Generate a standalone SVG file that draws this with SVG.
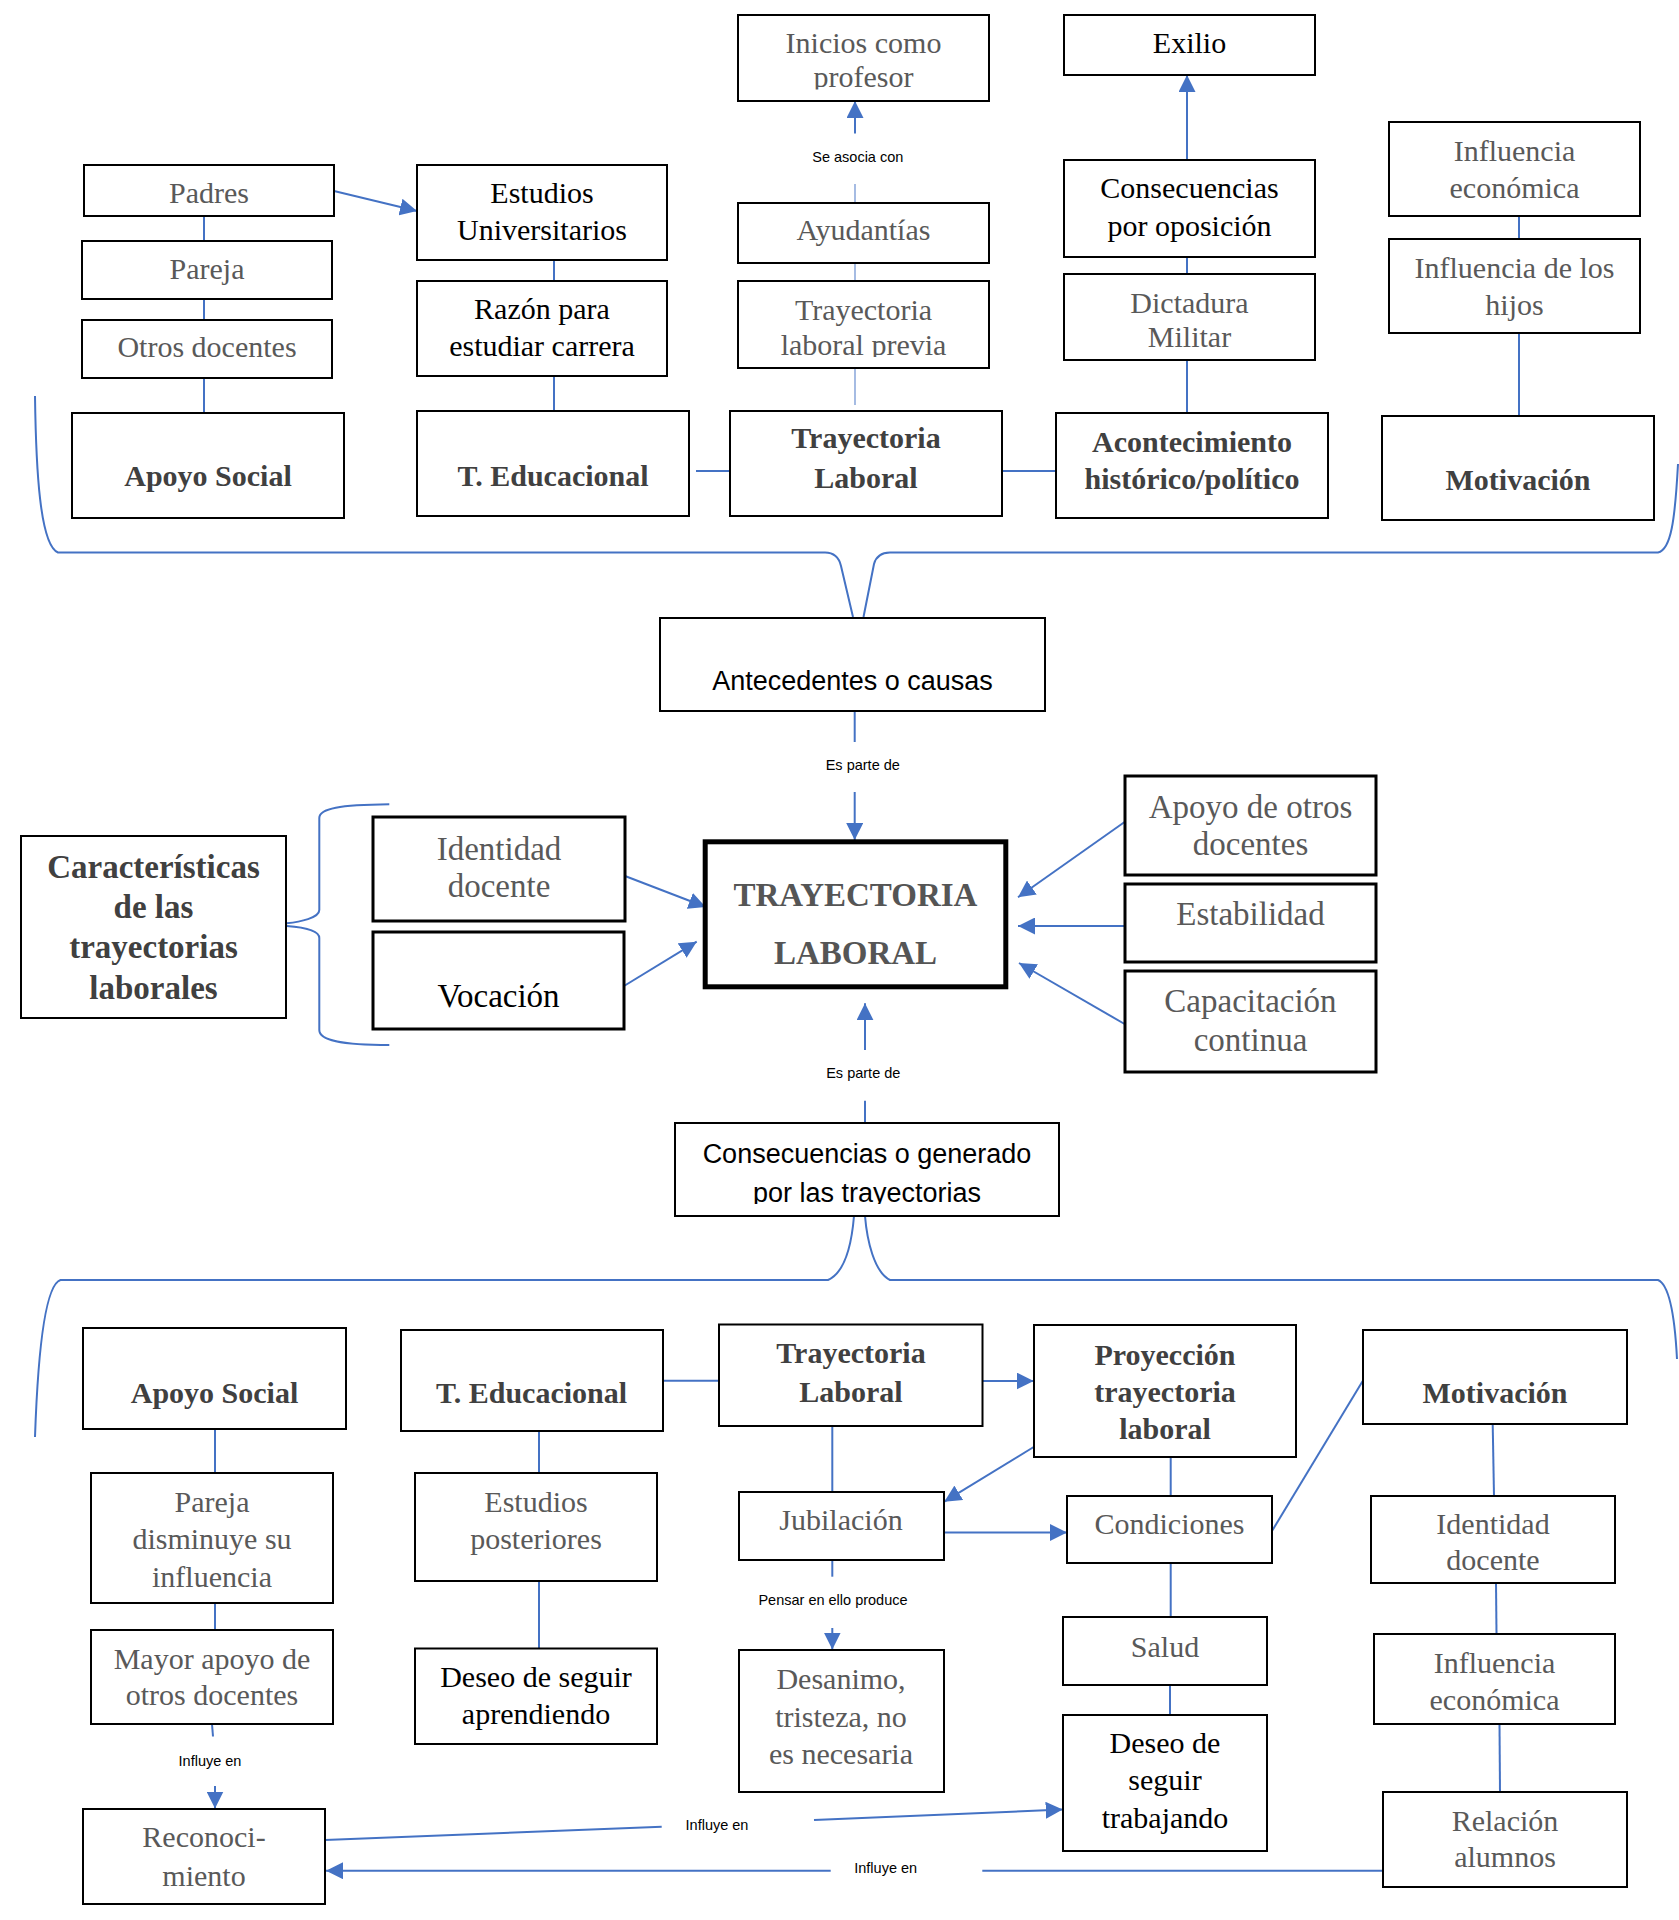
<svg xmlns="http://www.w3.org/2000/svg" width="1679" height="1920" viewBox="0 0 1679 1920">
<style>
.b{fill:#fff;stroke:#000;stroke-width:2}
.b3{stroke-width:3}
.t{font-family:"Liberation Serif","Times New Roman",serif;font-size:30px;fill:#595959;text-anchor:middle}
.k{fill:#000}
.bd{font-weight:bold;fill:#404040}
.m{font-size:33px}
.s{font-family:"Liberation Sans",Arial,sans-serif;font-size:14.5px;fill:#000;text-anchor:middle}
.sa{font-family:"Liberation Sans",Arial,sans-serif;font-size:27px;fill:#000;text-anchor:middle}
.c{stroke:#4472C4;stroke-width:2;fill:none}
.thin{stroke:#4472C4;stroke-width:1.2;fill:none;opacity:0.8}
.a{marker-end:url(#ah)}
</style>
<defs>
<marker id="ah" viewBox="0 0 10 10" refX="10" refY="5" markerWidth="17" markerHeight="17" markerUnits="userSpaceOnUse" orient="auto"><path d="M0,0 L10,5 L0,10 z" fill="#4472C4"/></marker>
<clipPath id="clipIni"><rect x="738" y="15" width="251" height="74.5"/></clipPath>
<clipPath id="clipPrev"><rect x="738" y="281" width="251" height="76"/></clipPath>
<clipPath id="clipCons"><rect x="675" y="1123" width="384" height="81"/></clipPath>
</defs>
<rect width="1679" height="1920" fill="#fff"/>

<g id="connectors">
<!-- braces -->
<path class="c" d="M35,396 C36,470 40,545 58,552.5 L825,552.5 Q838,552.7 841,566 L853,617"/>
<path class="c" d="M1678,464 C1675,520 1671,550 1658,552.5 L890,552.5 Q877,552.7 874,564 L863.5,617"/>
<path class="c" d="M854,1216 C852,1240 846,1272 828,1280 L60.5,1280 C45,1285 38,1350 35,1437"/>
<path class="c" d="M865,1216 C867,1240 874,1272 890,1280 L1658,1280 C1670,1285 1675,1320 1677,1359"/>
<path class="c" d="M389.3,804.3 C340,805 319.3,808 319.3,818 L319.3,910 C319.3,918 300,922 286.7,923.3"/>
<path class="c" d="M286.7,926 C300,927 319.3,930 319.3,938 L319.3,1030 C319.3,1040 340,1045 389.3,1045"/>
<!-- top -->
<line class="c a" x1="334" y1="191" x2="417" y2="211"/>
<line class="c" x1="204" y1="216" x2="204" y2="241"/>
<line class="c" x1="204" y1="299" x2="204" y2="320"/>
<line class="c" x1="204" y1="378" x2="204" y2="413"/>
<line class="c" x1="554" y1="260" x2="554" y2="281"/>
<line class="c" x1="554" y1="376" x2="554" y2="411"/>
<line class="c" x1="696" y1="471" x2="730" y2="471"/>
<line class="c" x1="1002" y1="471" x2="1056" y2="471"/>
<line class="c a" x1="855" y1="133.5" x2="855" y2="101"/>
<line class="thin" x1="855" y1="184" x2="855" y2="203"/>
<line class="thin" x1="855" y1="263" x2="855" y2="281"/>
<line class="thin" x1="855" y1="368" x2="855" y2="405"/>
<line class="c a" x1="1187" y1="160" x2="1187" y2="75"/>
<line class="c" x1="1187" y1="257" x2="1187" y2="274"/>
<line class="c" x1="1187" y1="360" x2="1187" y2="413"/>
<line class="c" x1="1519" y1="216" x2="1519" y2="239"/>
<line class="c" x1="1519" y1="333" x2="1519" y2="416"/>
<!-- middle -->
<line class="c" x1="854.7" y1="711" x2="854.7" y2="742"/>
<line class="c a" x1="854.7" y1="792" x2="854.7" y2="840"/>
<line class="c a" x1="625" y1="876" x2="705.7" y2="907"/>
<line class="c a" x1="624" y1="986" x2="696.7" y2="941.7"/>
<line class="c a" x1="1124.6" y1="822" x2="1018" y2="897.3"/>
<line class="c a" x1="1124.6" y1="926" x2="1018" y2="926"/>
<line class="c a" x1="1124.6" y1="1024" x2="1019" y2="963"/>
<line class="c a" x1="865" y1="1050" x2="865" y2="1003.3"/>
<line class="c" x1="865" y1="1100.7" x2="865" y2="1123"/>
<!-- bottom -->
<line class="c" x1="663" y1="1380.7" x2="719" y2="1380.7"/>
<line class="c a" x1="982.7" y1="1381" x2="1033.7" y2="1381"/>
<line class="c" x1="215" y1="1429" x2="215" y2="1473"/>
<line class="c" x1="215" y1="1603" x2="215" y2="1630"/>
<line class="c" x1="212" y1="1724" x2="213" y2="1736.5"/>
<line class="c a" x1="215" y1="1786" x2="215" y2="1808.5"/>
<line class="c" x1="539" y1="1431" x2="539" y2="1473"/>
<line class="c" x1="539" y1="1581" x2="539" y2="1648.5"/>
<line class="c" x1="832.3" y1="1426" x2="832.3" y2="1492"/>
<line class="c a" x1="1033.7" y1="1447" x2="944.3" y2="1501.7"/>
<line class="c a" x1="944" y1="1532.5" x2="1067" y2="1532.5"/>
<line class="c" x1="832.3" y1="1560" x2="832.3" y2="1576.7"/>
<line class="c a" x1="832.3" y1="1628" x2="832.3" y2="1649.5"/>
<line class="c" x1="1170.7" y1="1457" x2="1170.7" y2="1496"/>
<line class="c" x1="1272" y1="1531" x2="1362.7" y2="1381"/>
<line class="c" x1="1170.7" y1="1563" x2="1170.7" y2="1617"/>
<line class="c" x1="1170" y1="1685" x2="1170" y2="1715"/>
<line class="c" x1="325" y1="1840" x2="661.7" y2="1826.7"/>
<line class="c a" x1="814" y1="1820" x2="1062.7" y2="1809.5"/>
<line class="c" x1="1383" y1="1870.7" x2="982.3" y2="1870.7"/>
<line class="c a" x1="830.7" y1="1870.7" x2="326" y2="1870.7"/>
<line class="c" x1="1492.7" y1="1424" x2="1494" y2="1496"/>
<line class="c" x1="1496" y1="1583" x2="1496.5" y2="1634"/>
<line class="c" x1="1499.5" y1="1724" x2="1500" y2="1792"/>
<!-- labels -->
<text class="s" x="857.8" y="161.7">Se asocia con</text>
<text class="s" x="862.8" y="770">Es parte de</text>
<text class="s" x="863.3" y="1078.3">Es parte de</text>
<text class="s" x="833" y="1605">Pensar en ello produce</text>
<text class="s" x="210" y="1765.5">Influye en</text>
<text class="s" x="717" y="1830">Influye en</text>
<text class="s" x="885.7" y="1872.7">Influye en</text>
</g>

<!-- TOP ROW -->
<g id="padres"><rect class="b" x="84" y="165" width="250" height="51"/><text class="t" x="209" y="202.5">Padres</text></g>
<g id="pareja"><rect class="b" x="82" y="241" width="250" height="58"/><text class="t" x="207" y="278.6">Pareja</text></g>
<g id="otros-docentes"><rect class="b" x="82" y="320" width="250" height="58"/><text class="t" x="207" y="357">Otros docentes</text></g>
<g id="apoyo-social"><rect class="b" x="72" y="413" width="272" height="105"/><text class="t bd" x="208" y="486">Apoyo Social</text></g>
<g id="estudios-universitarios"><rect class="b" x="417" y="165" width="250" height="95"/><text class="t k" x="542" y="203">Estudios</text><text class="t k" x="542" y="240">Universitarios</text></g>
<g id="razon"><rect class="b" x="417" y="281" width="250" height="95"/><text class="t k" x="542" y="319">Razón para</text><text class="t k" x="542" y="356.4">estudiar carrera</text></g>
<g id="t-educacional"><rect class="b" x="417" y="411" width="272" height="105"/><text class="t bd" x="553" y="486">T. Educacional</text></g>
<g id="inicios"><rect class="b" x="738" y="15" width="251" height="86"/><g clip-path="url(#clipIni)"><text class="t" x="863.5" y="52.7">Inicios como</text><text class="t" x="863.5" y="87.3">profesor</text></g></g>
<g id="ayudantias"><rect class="b" x="738" y="203" width="251" height="60"/><text class="t" x="863.5" y="240">Ayudantías</text></g>
<g id="trayectoria-previa"><rect class="b" x="738" y="281" width="251" height="87"/><g clip-path="url(#clipPrev)"><text class="t" x="863.5" y="320">Trayectoria</text><text class="t" x="863.5" y="355">laboral previa</text></g></g>
<g id="trayectoria-laboral-top"><rect class="b" x="730" y="411" width="272" height="105"/><text class="t bd" x="866" y="448">Trayectoria</text><text class="t bd" x="866" y="488">Laboral</text></g>
<g id="exilio"><rect class="b" x="1064" y="15" width="251" height="60"/><text class="t k" x="1189.5" y="53">Exilio</text></g>
<g id="consecuencias-oposicion"><rect class="b" x="1064" y="160" width="251" height="97"/><text class="t k" x="1189.5" y="197.5">Consecuencias</text><text class="t k" x="1189.5" y="235.7">por oposición</text></g>
<g id="dictadura"><rect class="b" x="1064" y="274" width="251" height="86"/><text class="t" x="1189.5" y="313">Dictadura</text><text class="t" x="1189.5" y="347">Militar</text></g>
<g id="acontecimiento"><rect class="b" x="1056" y="413" width="272" height="105"/><text class="t bd" x="1192" y="451.8">Acontecimiento</text><text class="t bd" x="1192" y="489">histórico/político</text></g>
<g id="influencia-economica-top"><rect class="b" x="1389" y="122" width="251" height="94"/><text class="t" x="1514.5" y="160.7">Influencia</text><text class="t" x="1514.5" y="198.2">económica</text></g>
<g id="influencia-hijos"><rect class="b" x="1389" y="239" width="251" height="94"/><text class="t" x="1514.5" y="277.9">Influencia de los</text><text class="t" x="1514.5" y="315.4">hijos</text></g>
<g id="motivacion-top"><rect class="b" x="1382" y="416" width="272" height="104"/><text class="t bd" x="1518" y="490">Motivación</text></g>

<!-- MIDDLE -->
<g id="antecedentes"><rect class="b" x="660" y="618" width="385" height="93"/><text class="sa" x="852.5" y="690">Antecedentes o causas</text></g>
<g id="trayectoria-laboral-center"><rect x="705.2" y="841.8" width="300.6" height="145" fill="#fff" stroke="#000" stroke-width="5"/><text class="t bd m" x="855.5" y="906" style="fill:#555">TRAYECTORIA</text><text class="t bd m" x="855.5" y="964" style="fill:#555">LABORAL</text></g>
<g id="caracteristicas"><rect class="b" x="21" y="836" width="265" height="182"/><text class="t bd m k" x="153.5" y="878.3">Características</text><text class="t bd m k" x="153.5" y="918.3">de las</text><text class="t bd m k" x="153.5" y="958.3">trayectorias</text><text class="t bd m k" x="153.5" y="999.3">laborales</text></g>
<g id="identidad-docente-mid"><rect class="b b3" x="373" y="817" width="252" height="104"/><text class="t m" x="499" y="859.6">Identidad</text><text class="t m" x="499" y="897">docente</text></g>
<g id="vocacion"><rect class="b b3" x="373" y="932" width="251" height="97"/><text class="t m k" x="498.5" y="1007">Vocación</text></g>
<g id="apoyo-otros-docentes"><rect class="b b3" x="1125" y="776" width="251" height="99"/><text class="t m" x="1250.5" y="817.9">Apoyo de otros</text><text class="t m" x="1250.5" y="855">docentes</text></g>
<g id="estabilidad"><rect class="b b3" x="1125" y="884" width="251" height="78"/><text class="t m" x="1250.5" y="925">Estabilidad</text></g>
<g id="capacitacion"><rect class="b b3" x="1125" y="971" width="251" height="101"/><text class="t m" x="1250.5" y="1012">Capacitación</text><text class="t m" x="1250.5" y="1050.7">continua</text></g>
<g id="consecuencias-generado"><rect class="b" x="675" y="1123" width="384" height="93"/><g clip-path="url(#clipCons)"><text class="sa" x="867" y="1162.7">Consecuencias o generado</text><text class="sa" x="867" y="1201.7">por las trayectorias</text></g></g>

<!-- BOTTOM -->
<g id="apoyo-social-bottom"><rect class="b" x="83" y="1328" width="263" height="101"/><text class="t bd" x="214.5" y="1402.6">Apoyo Social</text></g>
<g id="t-educacional-bottom"><rect class="b" x="401" y="1330" width="262" height="101"/><text class="t bd" x="531.5" y="1402.6">T. Educacional</text></g>
<g id="trayectoria-laboral-bottom"><rect class="b" x="719" y="1324.5" width="263.5" height="101.5"/><text class="t bd" x="851" y="1363">Trayectoria</text><text class="t bd" x="851" y="1401.7">Laboral</text></g>
<g id="proyeccion"><rect class="b" x="1034" y="1325" width="262" height="132"/><text class="t bd" x="1165" y="1364.5">Proyección</text><text class="t bd" x="1165" y="1401.7">trayectoria</text><text class="t bd" x="1165" y="1438.6">laboral</text></g>
<g id="motivacion-bottom"><rect class="b" x="1363" y="1330" width="264" height="94"/><text class="t bd" x="1495" y="1402.6">Motivación</text></g>
<g id="pareja-disminuye"><rect class="b" x="91" y="1473" width="242" height="130"/><text class="t" x="212" y="1512">Pareja</text><text class="t" x="212" y="1549">disminuye su</text><text class="t" x="212" y="1587">influencia</text></g>
<g id="mayor-apoyo"><rect class="b" x="91" y="1630" width="242" height="94"/><text class="t" x="212" y="1669">Mayor apoyo de</text><text class="t" x="212" y="1705">otros docentes</text></g>
<g id="reconocimiento"><rect class="b" x="83" y="1809" width="242" height="95"/><text class="t" x="204" y="1847">Reconoci-</text><text class="t" x="204" y="1886">miento</text></g>
<g id="estudios-posteriores"><rect class="b" x="415" y="1473" width="242" height="108"/><text class="t" x="536" y="1512">Estudios</text><text class="t" x="536" y="1549">posteriores</text></g>
<g id="deseo-aprendiendo"><rect class="b" x="415" y="1648.5" width="242" height="95.5"/><text class="t k" x="536" y="1686.7">Deseo de seguir</text><text class="t k" x="536" y="1723.5">aprendiendo</text></g>
<g id="jubilacion"><rect class="b" x="739" y="1492" width="205" height="68"/><text class="t" x="841" y="1530">Jubilación</text></g>
<g id="desanimo"><rect class="b" x="739" y="1650" width="205" height="142"/><text class="t" x="841" y="1689.3">Desanimo,</text><text class="t" x="841" y="1726.7">tristeza, no</text><text class="t" x="841" y="1764">es necesaria</text></g>
<g id="condiciones"><rect class="b" x="1067" y="1496" width="205" height="67"/><text class="t" x="1169.5" y="1534">Condiciones</text></g>
<g id="salud"><rect class="b" x="1063" y="1617" width="204" height="68"/><text class="t" x="1165" y="1657">Salud</text></g>
<g id="deseo-trabajando"><rect class="b" x="1063" y="1715" width="204" height="136"/><text class="t k" x="1165" y="1752.6">Deseo de</text><text class="t k" x="1165" y="1790">seguir</text><text class="t k" x="1165" y="1827.6">trabajando</text></g>
<g id="identidad-docente-bottom"><rect class="b" x="1371" y="1496" width="244" height="87"/><text class="t" x="1493" y="1534">Identidad</text><text class="t" x="1493" y="1569.6">docente</text></g>
<g id="influencia-economica-bottom"><rect class="b" x="1374" y="1634" width="241" height="90"/><text class="t" x="1494.5" y="1672.8">Influencia</text><text class="t" x="1494.5" y="1709.6">económica</text></g>
<g id="relacion-alumnos"><rect class="b" x="1383" y="1792" width="244" height="95"/><text class="t" x="1505" y="1830.6">Relación</text><text class="t" x="1505" y="1866.6">alumnos</text></g>
</svg>
